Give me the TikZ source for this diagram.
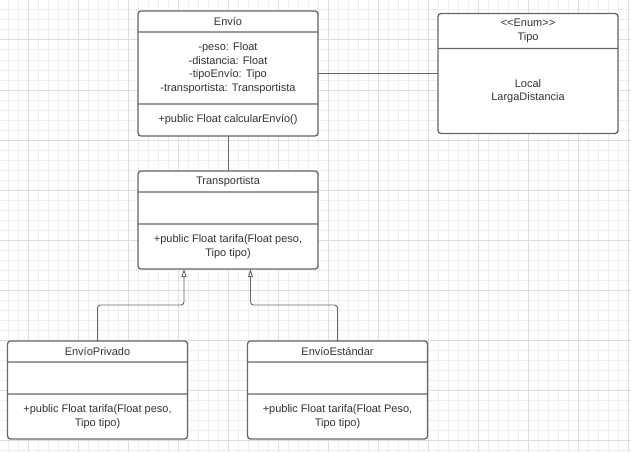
\documentclass[tikz,border=0pt]{standalone}
\usepackage{fontspec}
\setmainfont{Liberation Sans}
\usetikzlibrary{shapes.multipart,arrows.meta,positioning}
\definecolor{umlline}{HTML}{666666}
\definecolor{umltext}{HTML}{333333}
\definecolor{gridminor}{HTML}{EEEEEE}
\definecolor{gridmajor}{HTML}{DDDDDD}
\tikzstyle{umlclass} = [rectangle split, rectangle split parts=3, draw=umlline, line width=1.3pt, rounded corners=3pt, inner sep=0pt, outer sep=0pt, fill=white, text=umltext, font=\fontsize{11pt}{13.5pt}\selectfont]
\tikzstyle{umlenum} = [umlclass, rectangle split parts=2]
\tikzstyle{assoc} = [draw=umlline, line width=0.9pt]
\tikzstyle{inherit} = [assoc, rounded corners=3pt, -{Triangle[open,length=8pt,width=5pt]}]
\newcommand{\umlpart}[2]{\parbox[c][\dimexpr#1-1.3pt\relax][c]{180pt}{\centering #2}}

\begin{document}
\begin{tikzpicture}[x=1pt, y=1pt]
    \useasboundingbox (0,0) rectangle (631,-452);
    % background grid
    \foreach \gx in {8,18,...,628} \draw[gridminor, line width=1pt] (\gx,0) -- (\gx,-452);
    \foreach \gy in {0,10,...,450} \draw[gridminor, line width=1pt] (0,-\gy) -- (631,-\gy);
    \foreach \gx in {28,78,...,628} \draw[gridmajor, line width=1pt] (\gx,0) -- (\gx,-452);
    \foreach \gy in {40,90,...,440} \draw[gridmajor, line width=1pt] (0,-\gy) -- (631,-\gy);

    % classes
    \node[umlclass, anchor=north west] (envio) at (138,-11) {\umlpart{21pt}{Envío}
        \nodepart{second}\umlpart{72pt}{-peso: Float\\ -distancia: Float\\ -tipoEnvío: Tipo\\ -transportista: Transportista}
        \nodepart{third}\umlpart{32pt}{+public Float calcularEnvío()}};
    \node[umlenum, right=120pt of envio] (tipo) {\umlpart{35pt}{<{}<Enum>{}>\\ Tipo}
        \nodepart{second}\umlpart{85pt}{Local\\ LargaDistancia}};
    \node[umlclass, below=35pt of envio] (transportista) {\umlpart{21pt}{Transportista}
        \nodepart{second}\umlpart{32pt}{}
        \nodepart{third}\umlpart{45pt}{+public Float tarifa(Float peso,\\ Tipo tipo)}};
    \node[umlclass, below=72pt of transportista, xshift=-130.5pt] (privado) {\umlpart{21pt}{EnvíoPrivado}
        \nodepart{second}\umlpart{32pt}{}
        \nodepart{third}\umlpart{45pt}{+public Float tarifa(Float peso,\\ Tipo tipo)}};
    \node[umlclass, below=72pt of transportista, xshift=109.5pt] (estandar) {\umlpart{21pt}{EnvíoEstándar}
        \nodepart{second}\umlpart{32pt}{}
        \nodepart{third}\umlpart{45pt}{+public Float tarifa(Float Peso,\\ Tipo tipo)}};

    % relations
    \draw[assoc] (envio) -- (tipo);
    \draw[assoc] (envio) -- (transportista);
    \draw[inherit] (privado.north) -- ++(0,36) -| ([xshift=-44pt]transportista.south);
    \draw[inherit] (estandar.north) -- ++(0,36) -| ([xshift=22.5pt]transportista.south);
\end{tikzpicture}
\end{document}
